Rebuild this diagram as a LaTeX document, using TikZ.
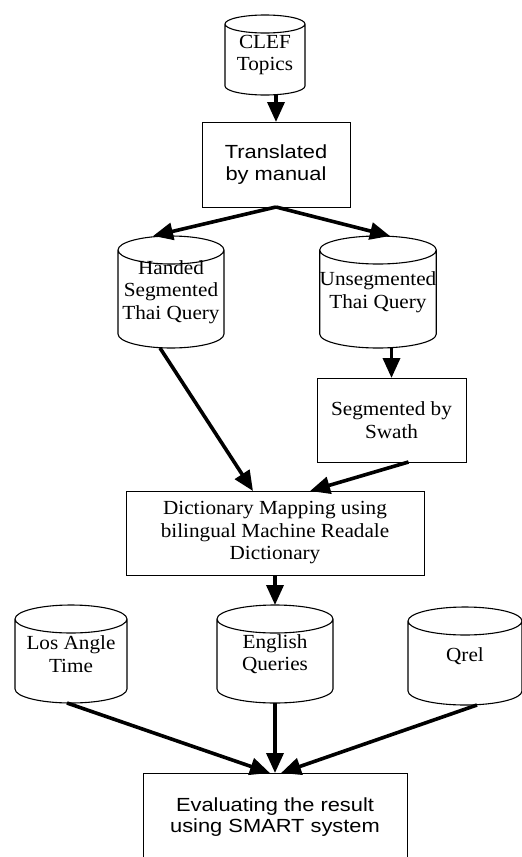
\documentclass[tikz,border=0pt]{standalone}
\usepackage{fontspec}
\setmainfont{Liberation Serif}[FakeStretch=1.06]
\newfontfamily\arialf{Liberation Sans}[FakeStretch=1.15]
\usetikzlibrary{arrows.meta,calc}
\tikzset{
  serift/.style={font=\fontsize{20}{22.5}\selectfont, align=center},
  sanst/.style={font=\arialf\fontsize{19}{21.5}\selectfont, align=center},
  cyl/.style={serift, inner sep=0pt, outer sep=0pt},
  boxn/.style={draw, line width=1pt, inner sep=0pt, outer sep=0pt},
  cylline/.style={line width=1.1pt},
  arr/.style={line width=3.6pt, -{Triangle[length=20pt,width=17pt]}},
}
\newcommand\cylout[2]{%
  \draw[cylline] let \p1=(#1.north west), \p2=(#1.south east), \n1={(\x2-\x1)/2} in
    (\x1,\y1-#2pt) -- (\x1,\y2+#2pt)
    arc[start angle=180,end angle=360,x radius=\n1,y radius={#2pt}]
    -- (\x2,\y1-#2pt)
    arc[start angle=0,end angle=180,x radius=\n1,y radius={#2pt}]
    arc[start angle=180,end angle=360,x radius=\n1,y radius={#2pt}];}
\begin{document}
\begin{tikzpicture}[x=1pt,y=1pt]
\useasboundingbox (0,0) rectangle (522,-857);
% cylinders
\node[cyl, minimum width=80pt, minimum height=80pt] (clef) at (265,-55) {CLEF\\Topics};
\node[cyl, minimum width=106pt, minimum height=112pt] (hand) at (171,-292) {Handed\\Segmented\\Thai Query};
\node[cyl, minimum width=106pt, minimum height=112pt] (unseg) at (378,-292) {Unsegmented\\Thai Query};
\node[cyl, minimum width=112pt, minimum height=98pt] (los) at (71,-654) {Los Angle\\Time};
\node[cyl, minimum width=116pt, minimum height=98pt] (eng) at (275,-654) {English\\Queries};
\node[cyl, minimum width=114pt, minimum height=98pt] (qrel) at (465,-656) {Qrel};
\cylout{clef}{9}
\cylout{hand}{14}
\cylout{unseg}{14}
\cylout{los}{14}
\cylout{eng}{14}
\cylout{qrel}{14}
% boxes
\node[boxn, sanst, minimum width=148pt, minimum height=85pt] (tbox) at (276,-164.5) {Translated\\by manual};
\node[boxn, serift, minimum width=149pt, minimum height=84pt] (swath) at (391.5,-420) {Segmented by\\Swath};
\node[boxn, serift, minimum width=298pt, minimum height=84pt] (dict) at (275,-533) {Dictionary Mapping using\\bilingual Machine Readale\\Dictionary};
\node[boxn, sanst, minimum width=264pt, minimum height=88pt] (eval) at (275,-817) {Evaluating the result\\using SMART system};
% arrows
\draw[arr] (tbox.north |- clef.south) -- (tbox.north);
\draw[arr] (tbox.south) -- ($(hand.north)+(-18,0)$);
\draw[arr] (tbox.south) -- ($(unseg.north)+(12,0)$);
\draw[arr] (swath.north |- unseg.south) -- (swath.north);
\draw[arr] ($(hand.south)+(-11,0)$) -- ($(dict.north)+(-22,0)$);
\draw[arr] ($(swath.south)+(17,0)$) -- ($(dict.north)+(35,0)$);
\draw[arr] (dict.south) -- (eng.north);
\draw[arr] ($(los.south)+(-4,0)$) -- ($(eval.north)+(-5,0)$);
\draw[arr] (eng.south) -- (eval.north);
\draw[arr] ($(qrel.south)+(12,0)$) -- ($(eval.north)+(6,0)$);
\end{tikzpicture}
\end{document}
